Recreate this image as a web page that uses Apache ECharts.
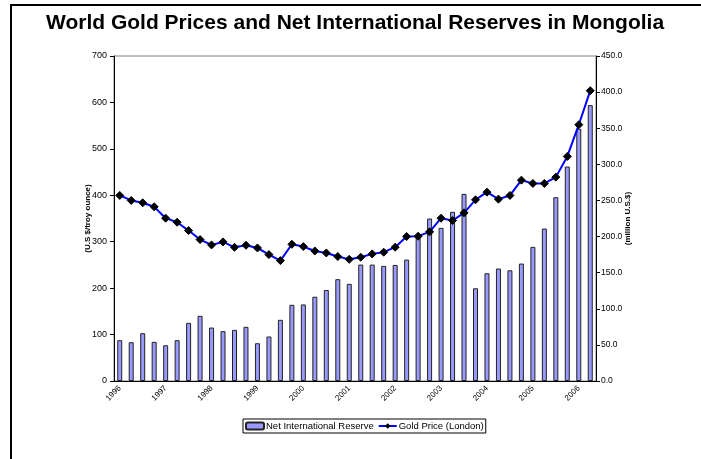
<!DOCTYPE html>
<html>
<head>
<meta charset="utf-8">
<script src="https://cdn.jsdelivr.net/npm/echarts@6/dist/echarts.min.js"></script>
<style>
html, body { margin: 0; padding: 0; background: #fff; }
#chart { width: 701px; height: 459px; }
</style>
</head>
<body>
<div id="chart"></div>
<script>
// Quarterly observations, 1996 Q1 – 2006 Q2
const quarters = [
  '1996 Q1','1996 Q2','1996 Q3','1996 Q4',
  '1997 Q1','1997 Q2','1997 Q3','1997 Q4',
  '1998 Q1','1998 Q2','1998 Q3','1998 Q4',
  '1999 Q1','1999 Q2','1999 Q3','1999 Q4',
  '2000 Q1','2000 Q2','2000 Q3','2000 Q4',
  '2001 Q1','2001 Q2','2001 Q3','2001 Q4',
  '2002 Q1','2002 Q2','2002 Q3','2002 Q4',
  '2003 Q1','2003 Q2','2003 Q3','2003 Q4',
  '2004 Q1','2004 Q2','2004 Q3','2004 Q4',
  '2005 Q1','2005 Q2','2005 Q3','2005 Q4',
  '2006 Q1','2006 Q2'
];

// Net international reserves, million US$ (right axis)
const netReserves = [
  56.5, 53.7, 66.2, 54.2, 49.5, 56.5, 80.5, 90.3,
  74.0, 69.0, 70.8, 75.0, 52.3, 61.6, 84.7, 105.5,
  106.0, 116.7, 126.0, 141.0, 134.5, 161.2, 161.2, 159.4,
  160.7, 168.1, 200.5, 225.0, 212.0, 234.2, 259.1, 128.4,
  149.2, 155.7, 153.3, 162.6, 185.7, 211.1, 254.5, 297.0,
  349.2, 382.0
];

// London gold price, US$ per troy ounce (left axis)
const goldPrice = [
  399.7, 388.9, 383.8, 375.2, 350.7, 342.0, 324.0, 304.6,
  293.1, 299.6, 288.0, 292.4, 286.6, 272.2, 259.3, 294.5,
  289.5, 280.1, 275.8, 268.0, 262.0, 266.6, 273.8, 277.4,
  288.2, 311.2, 311.9, 321.3, 350.7, 345.7, 362.2, 390.3,
  406.8, 391.7, 399.6, 432.6, 425.5, 425.5, 439.1, 483.7,
  552.0, 625.3
];

const font = 'Liberation Sans, Arial, sans-serif';
const chart = echarts.init(document.getElementById('chart'), null, { renderer: 'canvas' });

chart.setOption({
  animation: false,
  backgroundColor: '#fff',
  title: {
    text: 'World Gold Prices and Net International Reserves in Mongolia',
    left: 46,
    top: 13,
    padding: 0,
    textStyle: { fontFamily: font, fontSize: 21, fontWeight: 'bold', color: '#000' }
  },
  graphic: [{
    type: 'rect',
    shape: { x: 11, y: 5, width: 700, height: 470 },
    style: { fill: null, stroke: '#000', lineWidth: 2 },
    silent: true
  }],
  legend: {
    left: 243,
    top: 419,
    padding: [2, 2, 2, 2],
    itemGap: 4,
    itemWidth: 18,
    itemHeight: 7,
    borderColor: '#000',
    borderWidth: 1,
    textStyle: { fontFamily: font, fontSize: 9.5, color: '#000', padding: [0, 0, 0, -3] },
    data: ['Net International Reserve', 'Gold Price (London)']
  },
  grid: {
    left: 114, right: 105, top: 56, bottom: 78,
    show: true, borderColor: '#808080', borderWidth: 1, backgroundColor: 'transparent'
  },
  xAxis: {
    type: 'category',
    data: quarters,
    boundaryGap: true,
    axisLine: { lineStyle: { color: '#000', width: 1 } },
    axisTick: { interval: 0, length: 4, lineStyle: { color: '#000' } },
    axisLabel: {
      interval: 3,
      rotate: 45,
      margin: 6,
      fontFamily: font,
      fontSize: 8,
      color: '#000',
      formatter: v => v.slice(0, 4)
    },
    splitLine: { show: false }
  },
  yAxis: [{
    type: 'value',
    min: 0, max: 700, interval: 100,
    position: 'left',
    name: '(U.S $/troy ounce)',
    nameLocation: 'middle',
    nameRotate: 90,
    nameGap: 22,
    nameMoveOverlap: false,
    nameTextStyle: { fontFamily: font, fontSize: 8, fontWeight: 'bold', color: '#000' },
    axisLine: { show: true, lineStyle: { color: '#000', width: 1 } },
    axisTick: { show: true, length: 4, lineStyle: { color: '#000' } },
    axisLabel: { fontFamily: font, fontSize: 9, color: '#000', margin: 7 },
    splitLine: { show: false }
  }, {
    type: 'value',
    min: 0, max: 450, interval: 50,
    position: 'right',
    name: '(million U.S.$)',
    nameLocation: 'middle',
    nameRotate: 90,
    nameGap: 28,
    nameMoveOverlap: false,
    nameTextStyle: { fontFamily: font, fontSize: 8, fontWeight: 'bold', color: '#000' },
    axisLine: { show: true, lineStyle: { color: '#000', width: 1 } },
    axisTick: { show: true, length: 4, lineStyle: { color: '#000' } },
    axisLabel: { fontFamily: font, fontSize: 8.5, color: '#000', margin: 5, formatter: v => v.toFixed(1) },
    splitLine: { show: false }
  }],
  series: [{
    name: 'Net International Reserve',
    type: 'bar',
    yAxisIndex: 1,
    data: netReserves,
    barWidth: 5,
    itemStyle: { color: '#9999FF', borderColor: '#222', borderWidth: 1 }
  }, {
    name: 'Gold Price (London)',
    type: 'line',
    yAxisIndex: 0,
    data: goldPrice,
    symbol: 'diamond',
    symbolSize: 8,
    showAllSymbol: true,
    lineStyle: { color: '#0000FF', width: 2 },
    itemStyle: { color: '#000', borderColor: '#000' },
    z: 3
  }]
});
</script>
</body>
</html>
